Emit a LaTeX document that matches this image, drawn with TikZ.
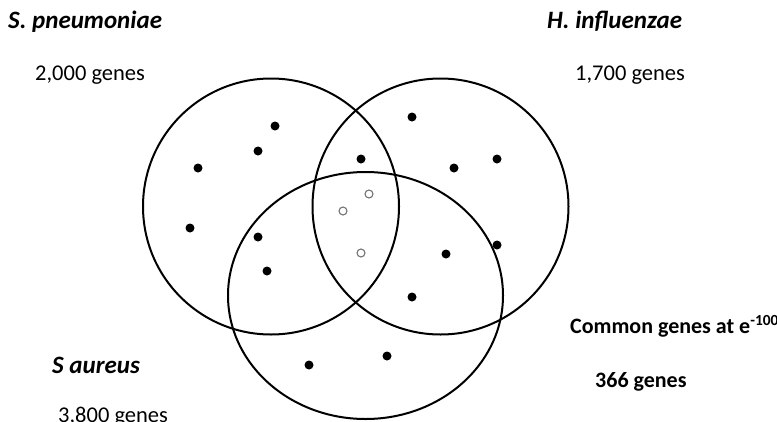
\documentclass[tikz,border=0pt]{standalone}
\usepackage{fontspec}
\setmainfont{Carlito}
\usetikzlibrary{shapes.geometric}
\begin{document}
\begin{tikzpicture}[x=1pt,y=-1pt,
  setring/.style={draw, line width=2pt, inner sep=0pt, outer sep=0pt},
  hit/.style={circle, fill=black, inner sep=0pt, minimum size=9pt},
  core/.style={circle, draw=black!55, line width=1.1pt, fill=white, inner sep=0pt, minimum size=8pt},
  title/.style={anchor=base west, inner sep=0pt, font=\fontsize{25}{30}\selectfont\bfseries\itshape},
  count/.style={anchor=base west, inner sep=0pt, font=\fontsize{22.5}{27}\selectfont},
  boldcount/.style={anchor=base west, inner sep=0pt, font=\fontsize{22}{27}\selectfont\bfseries}]
\useasboundingbox (0,0) rectangle (777,421);
\clip (0,0) rectangle (777,421);

% the three genomes
\node[setring, circle, minimum size=256pt] (spn) at (271,206.5) {};
\node[setring, circle, minimum size=256pt] (hin) at (440.5,206.5) {};
\node[setring, ellipse, minimum width=275pt, minimum height=247pt] (sau) at (365.5,295.5) {};

% labels
\node[title] (spnname) at (8,28) {S. pneumoniae};
\node[count] (spncount) at (35,80) {2,000 genes};
\node[title] (hinname) at (547,28) {H. influenzae};
\node[count] (hincount) at (575,80) {1,700 genes};
\node[title] (sauname) at (52,373) {S aureus};
\node[count] (saucount) at (58,422) {3,800 genes};
\node[boldcount] (common) at (570,333) {Common genes at e\textsuperscript{-100}};
\node[boldcount] (commoncount) at (595,387) {366 genes};

% genes
\node[hit] (g1) at (275,126) {};
\node[hit] (g2) at (258,151) {};
\node[hit] (g3) at (198,168) {};
\node[hit] (g4) at (361,159) {};
\node[hit] (g5) at (412,117) {};
\node[hit] (g6) at (454,168) {};
\node[hit] (g7) at (497,159) {};
\node[hit] (g8) at (190,228) {};
\node[hit] (g9) at (258,237) {};
\node[hit] (g10) at (267,271) {};
\node[hit] (g11) at (412,297) {};
\node[hit] (g12) at (446,254) {};
\node[hit] (g13) at (497,245) {};
\node[hit] (g14) at (309,365) {};
\node[hit] (g15) at (387,356) {};

% shared core genes
\node[core] (c1) at (369,194) {};
\node[core] (c2) at (343,211) {};
\node[core] (c3) at (361,253) {};
\end{tikzpicture}
\end{document}
